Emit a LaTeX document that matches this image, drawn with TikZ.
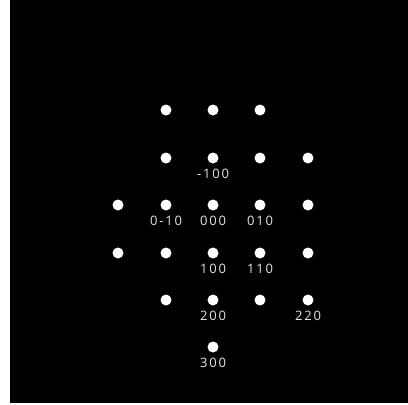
\documentclass[tikz,border=0pt]{standalone}
\usepackage{fontspec}
\usetikzlibrary{positioning}
\newfontfamily\idxfont[LetterSpace=14]{Open Sans}
\definecolor{spotwhite}{RGB}{255,255,255}
\definecolor{idxgray}{RGB}{228,228,228}

\begin{document}
\begin{tikzpicture}[
    x=1pt, y=-1pt,
    spot/.style={circle, fill=spotwhite, inner sep=0pt, minimum size=11pt},
    idx/.style={inner sep=0pt, text=idxgray, font=\idxfont\fontsize{13}{15}\selectfont},
]
    \useasboundingbox (0,0) rectangle (408,405);
    \fill[black] (10,0) rectangle (408,403);

    % diffraction spots, row by row
    \node[spot] (s1a) at (166,110) {};
    \node[spot] (s1b) at (213,110) {};
    \node[spot] (s1c) at (260,110) {};

    \node[spot] (s2b) at (166,158) {};
    \node[spot] (s2c) at (213,158) {};
    \node[spot] (s2d) at (260,158) {};
    \node[spot] (s2e) at (308,158) {};

    \node[spot] (s3a) at (118,205) {};
    \node[spot] (s3b) at (166,205) {};
    \node[spot] (s3c) at (213,205) {};
    \node[spot] (s3d) at (260,205) {};
    \node[spot] (s3e) at (308,205) {};

    \node[spot] (s4a) at (118,253) {};
    \node[spot] (s4b) at (166,253) {};
    \node[spot] (s4c) at (213,253) {};
    \node[spot] (s4d) at (260,253) {};
    \node[spot] (s4e) at (308,253) {};

    \node[spot] (s5b) at (166,300) {};
    \node[spot] (s5c) at (213,300) {};
    \node[spot] (s5d) at (260,300) {};
    \node[spot] (s5e) at (308,300) {};

    \node[spot] (s6c) at (213,347) {};

    % indices
    \node[idx, below=5pt of s2c] (lm100) {-100};
    \node[idx, below=5pt of s3b] (l0m10) {0-10};
    \node[idx, below=5pt of s3c] (l000) {000};
    \node[idx, below=5pt of s3d] (l010) {010};
    \node[idx, below=5pt of s4c] (l100) {100};
    \node[idx, below=5pt of s4d] (l110) {110};
    \node[idx, below=5pt of s5c] (l200) {200};
    \node[idx, below=5pt of s5e] (l220) {220};
    \node[idx, below=5pt of s6c] (l300) {300};
\end{tikzpicture}
\end{document}
